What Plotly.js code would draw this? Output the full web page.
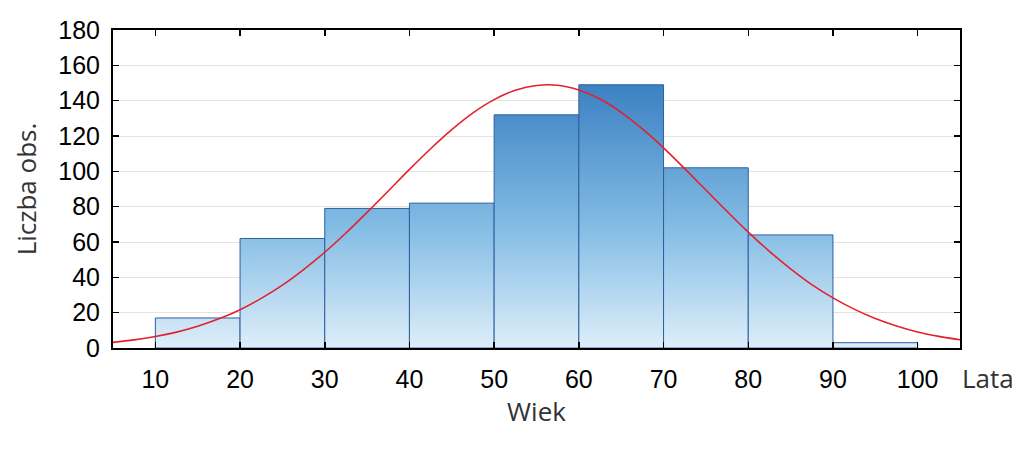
<!DOCTYPE html>
<html>
<head>
<meta charset="utf-8">
<script src="https://cdn.plot.ly/plotly-3.0.1.min.js"></script>
<style>html,body{margin:0;padding:0;background:#fff;}#chart{width:1024px;height:451px;}</style>
</head>
<body>
<div id="chart"></div>
<script>
// Histogram bins (Wiek, lata) and counts (Liczba obs.)
const binStarts = [10, 20, 30, 40, 50, 60, 70, 80, 90];
const binWidth = 10;
const counts = [17, 62, 79, 82, 132, 149, 102, 64, 3];

// Expected normal curve
const curveX = [5, 7.5, 10, 12.5, 15, 17.5, 20, 22.5, 25, 27.5, 30, 32.5, 35, 37.5, 40, 42.5, 45, 47.5, 50, 52.5, 55, 57.5, 60, 62.5, 65, 67.5, 70, 72.5, 75, 77.5, 80, 82.5, 85, 87.5, 90, 92.5, 95, 97.5, 100, 102.5, 105];
const curveY = [3.2, 4.6, 6.5, 9.0, 12.3, 16.5, 21.7, 28.1, 35.6, 44.4, 54.2, 65.1, 76.8, 88.9, 101.1, 112.8, 123.6, 133.1, 140.6, 145.9, 148.6, 148.7, 146.0, 140.9, 133.4, 124.0, 113.3, 101.5, 89.4, 77.3, 65.6, 54.7, 44.8, 35.9, 28.4, 22.0, 16.7, 12.5, 9.1, 6.6, 4.7];

const yTicks = [0, 20, 40, 60, 80, 100, 120, 140, 160, 180];
const xTicks = [10, 20, 30, 40, 50, 60, 70, 80, 90, 100];

const traces = [];
binStarts.forEach((s, i) => {
  const e = s + binWidth;
  traces.push({
    type: 'scatter', mode: 'lines',
    x: [s, s, e, e, s],
    y: [0, counts[i], counts[i], 0, 0],
    fill: 'toself',
    fillgradient: {
      type: 'vertical',
      start: 0, stop: 150,
      colorscale: [[0, '#deeef9'], [0.45, '#84bde5'], [1, '#3b80c2']]
    },
    line: {color: '#2d5e9e', width: 1},
    hoverinfo: 'skip', showlegend: false
  });
});
traces.push({
  type: 'scatter', mode: 'lines',
  x: curveX, y: curveY,
  line: {color: '#e4202e', width: 1.6, shape: 'spline'},
  showlegend: false, hoverinfo: 'skip'
});

const titleFont = {family: 'Open Sans, Noto Sans, sans-serif', size: 26, color: '#333'};

const layout = {
  width: 1024, height: 451,
  margin: {l: 113, r: 64, t: 30, b: 103},
  paper_bgcolor: '#ffffff', plot_bgcolor: '#ffffff',
  font: {family: 'Liberation Sans, Arial, sans-serif', color: '#000', size: 25},
  xaxis: {
    range: [5, 105], tickvals: xTicks, ticktext: xTicks.map(String),
    ticks: 'inside', ticklen: 6, tickwidth: 1.5, tickcolor: '#000',
    showline: true, linecolor: '#000', linewidth: 2, mirror: 'allticks',
    showgrid: false, zeroline: false, ticklabelstandoff: 8,
    tickfont: {size: 25, color: '#000'},
    title: {text: 'Wiek', font: titleFont, standoff: 8}
  },
  yaxis: {
    range: [0, 180], tickvals: yTicks, ticktext: yTicks.map(String),
    ticks: 'inside', ticklen: 6, tickwidth: 1.5, tickcolor: '#000',
    showline: true, linecolor: '#000', linewidth: 2, mirror: 'allticks',
    showgrid: true, gridcolor: '#e3e3e3', gridwidth: 1, zeroline: false,
    ticklabelstandoff: 6,
    tickfont: {size: 25, color: '#000'},
    title: {text: 'Liczba obs.', font: titleFont, standoff: 14}
  },
  annotations: [{
    text: 'Lata', xref: 'paper', yref: 'paper', x: 1.0, y: 0, xanchor: 'left', yanchor: 'middle',
    xshift: 0, yshift: -30, showarrow: false,
    font: titleFont
  }]
};

Plotly.newPlot('chart', traces, layout, {displayModeBar: false, staticPlot: true});
</script>
</body>
</html>
